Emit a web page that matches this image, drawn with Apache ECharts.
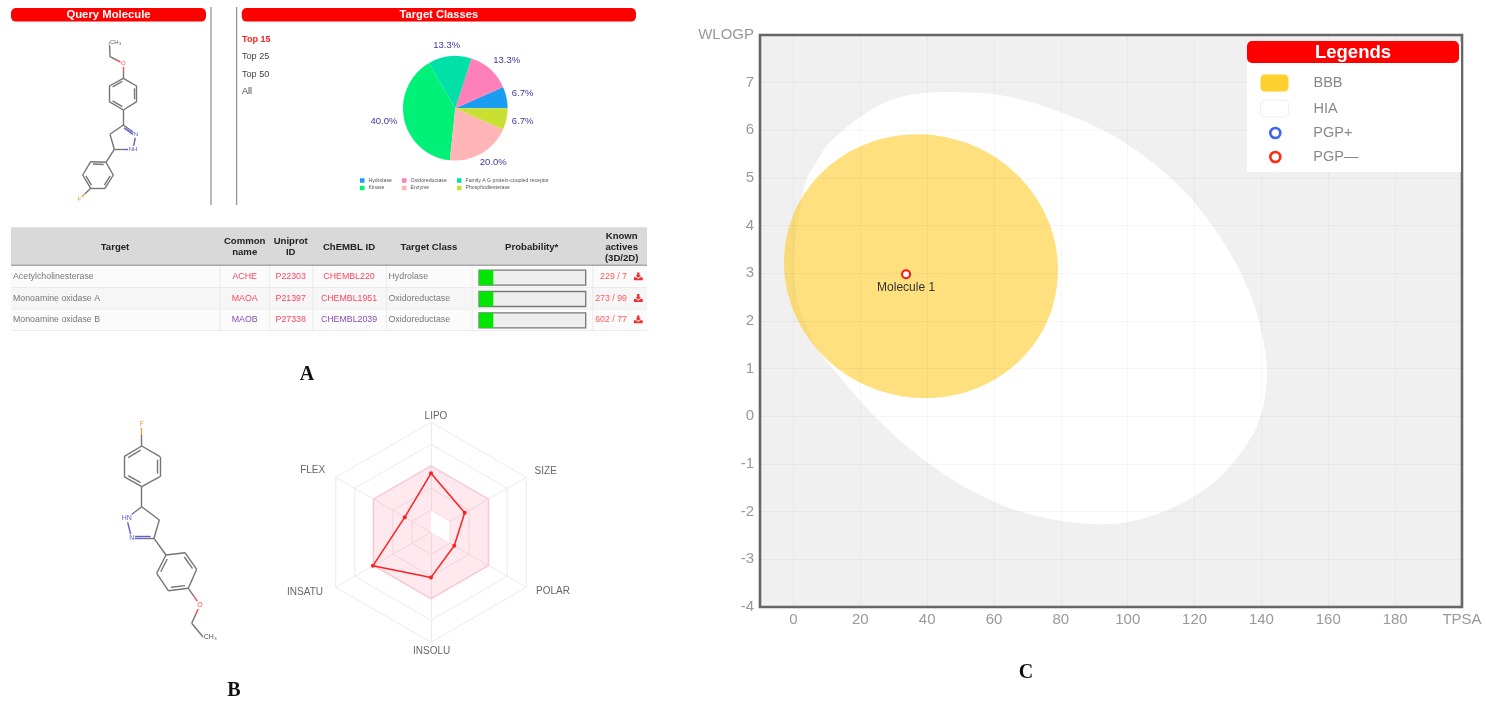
<!DOCTYPE html>
<html>
<head>
<meta charset="utf-8">
<style>
html, body { margin: 0; padding: 0; background: #fff; }
#main { width: 1486px; height: 707px; }
</style>
<script src="https://cdn.jsdelivr.net/npm/echarts@6/dist/echarts.min.js"></script>
</head>
<body>
<div id="main"></div>
<script>
// ---- data ----
var pieNames = ['Hydrolase', 'Oxidoreductase', 'Family A G protein-coupled receptor', 'Kinase', 'Enzyme', 'Phosphodiesterase'];
var pieCounts = [1, 2, 2, 6, 3, 1];
var pieColors = ['#1a9cf0', '#ff80b8', '#00e0a8', '#00f078', '#ffb5b5', '#c8e032'];

var topLinks = ['Top 15', 'Top 25', 'Top 50', 'All'];

var tableHead = ['Target', 'Common\nname', 'Uniprot\nID', 'ChEMBL ID', 'Target Class', 'Probability*', 'Known\nactives\n(3D/2D)'];
var targets = ['Acetylcholinesterase', 'Monoamine oxidase A', 'Monoamine oxidase B'];
var commonNames = ['ACHE', 'MAOA', 'MAOB'];
var uniprotIds = ['P22303', 'P21397', 'P27338'];
var chemblIds = ['CHEMBL220', 'CHEMBL1951', 'CHEMBL2039'];
var targetClasses = ['Hydrolase', 'Oxidoreductase', 'Oxidoreductase'];
var probabilities = [0.134, 0.134, 0.134];
var knownActives = ['229 / 7', '273 / 99', '602 / 77'];

// radar runs counter-clockwise from the top
var radarAxes = ['LIPO', 'FLEX', 'INSATU', 'INSOLU', 'POLAR', 'SIZE'];
var radarOptimal = [0.606, 0.606, 0.606, 0.606, 0.606, 0.606];
var radarHole = [0.195, 0, 0, 0, 0.195, 0.195];
var radarMolecule = [0.536, 0.275, 0.61, 0.41, 0.244, 0.354];

var tpsaTicks = [0, 20, 40, 60, 80, 100, 120, 140, 160, 180, 200];
var wlogpTicks = [-4, -3, -2, -1, 0, 1, 2, 3, 4, 5, 6, 7, 8];
// egg white outline as [TPSA, WLOGP]
var hiaOutline = [[50.0,6.80],[61.7,6.74],[75.1,6.50],[92.4,6.01],[105.8,5.41],[117.1,4.71],[126.2,3.91],[133.4,3.07],[138.6,2.16],[141.6,1.04],[140.0,0.06],[134.4,-0.71],[125.3,-1.41],[113.0,-1.93],[100.6,-2.21],[90.5,-2.26],[78.2,-2.17],[63.8,-1.90],[49.5,-1.41],[37.2,-0.81],[24.8,-0.04],[14.7,0.76],[6.9,1.46],[1.3,2.44],[0.1,3.28],[1.5,4.1],[3.5,4.89],[7.0,5.35],[11.0,5.76],[19.9,6.28],[28.9,6.63],[38.8,6.78]];
// yolk: cx, cy, rx (TPSA units), ry (WLOGP units), tilt in degrees
var bbbEllipse = [38.2, 3.15, 41.2, 2.755, 19];
var moleculePoints = [[33.7, 2.98]];

// molecule drawings: same atom order for both, bonds shared
var bonds = [[0,1],[1,2],[2,3],[3,4],[4,5],[5,6],[6,7],[7,8],[8,3],[6,9],[9,10],[10,11],[11,12],[12,13],[13,9],[12,14],[14,15],[15,16],[16,17],[17,18],[18,19],[19,14],[17,20]];
var doubleBonds = [[4,5,0],[6,7,0],[3,8,0],[15,16,1],[17,18,1],[14,19,1],[9,10,2]];
var rings = [[3,4,5,6,7,8],[14,15,16,17,18,19],[9,10,11,12,13]];
var atomsA = [[109.5,42],[110,56.7],[123.3,63.3],[123.3,78.3],[136.7,86],[136.7,101.7],[123.3,110],[109.3,101.7],[109.3,86],[123.3,125],[136,134.3],[133,149.3],[114.3,149.3],[110,134.3],[106,162.3],[113.3,175],[105,188.3],[90.7,188.3],[82.7,175],[90.7,161.7],[79.3,199]];
var atomsB = [[203.3,637.3],[191.7,623.3],[200,605],[188.3,588.3],[196.7,569.3],[185,552.7],[166,555],[156.7,573.3],[168.3,590.7],[154,538.3],[131.7,538.3],[126.7,518.3],[141.7,506.7],[159.3,520],[141.7,486.7],[160,476.7],[160,456.7],[141.7,446],[124,456.7],[124,476.7],[141.7,424]];

// ---- layout ----
var pieLabelCenters = [[522.7, 93], [506.7, 60.7], [446.7, 45.7], [384, 121.7], [493.3, 162.7], [522.7, 121.7]];
var radarLabelCenters = [[436, 416], [312.7, 470], [305, 592.3], [431.7, 651.7], [553, 591.7], [545.7, 471.7]];

// ---- helpers ----
var FONT = '"Liberation Sans", Arial, sans-serif';
var RED = '#ff0000';
var elements = [];

function txt(text, x, y, size, color, opts) {
    opts = opts || {};
    elements.push({
        type: 'text', silent: true, z: opts.z || 5, x: x, y: y,
        style: {
            text: text, fill: color, lineHeight: opts.lineHeight,
            font: (opts.weight || 'normal') + ' ' + size + 'px ' + (opts.family || FONT),
            align: opts.align || 'center', verticalAlign: 'middle'
        }
    });
}
function box(x, y, w, h, color, opts) {
    opts = opts || {};
    elements.push({
        type: 'rect', silent: true, z: opts.z || 3,
        shape: {x: x, y: y, width: w, height: h, r: opts.r || 0},
        style: {fill: color, stroke: opts.stroke, lineWidth: opts.lineWidth}
    });
}
function heading(label, x, y, w, h, size, z) {
    box(x, y, w, h, RED, {r: 5, z: z});
    txt(label, x + w / 2, y + h / 2 + 0.5, size, '#fff', {weight: 'bold', z: (z || 3) + 1});
}

function moleculeSeries(atoms, labels, fontSize) {
    var nodes = atoms.map(function (p, i) {
        var lab = labels[i];
        return {
            name: 'a' + i, x: p[0], y: p[1], symbolSize: 0,
            label: lab ? {
                show: true, formatter: lab.text, position: lab.pos || 'inside', distance: 0,
                fontSize: fontSize, color: lab.color, backgroundColor: '#fff', padding: 0.5
            } : {show: false}
        };
    });
    var links = [];
    function link(a, b, color) {
        links.push({source: a, target: b, lineStyle: {color: color || '#757575'}});
    }
    bonds.forEach(function (b, k) {
        var la = labels[b[0]], lb = labels[b[1]];
        var ca = la && la.hetero ? la.color : null, cb = lb && lb.hetero ? lb.color : null;
        if (ca && cb) { link('a' + b[0], 'a' + b[1], ca); return; }
        if (!ca && !cb) { link('a' + b[0], 'a' + b[1]); return; }
        // half coloured bond next to a hetero atom
        var mid = 'm' + k;
        nodes.push({
            name: mid, symbolSize: 0, label: {show: false},
            x: (atoms[b[0]][0] + atoms[b[1]][0]) / 2, y: (atoms[b[0]][1] + atoms[b[1]][1]) / 2
        });
        link('a' + b[0], mid, ca);
        link(mid, 'a' + b[1], cb);
    });
    doubleBonds.forEach(function (d, k) {
        var ring = rings[d[2]], cx = 0, cy = 0;
        ring.forEach(function (i) { cx += atoms[i][0] / ring.length; cy += atoms[i][1] / ring.length; });
        var pa = atoms[d[0]], pb = atoms[d[1]];
        function inner(p, q) {
            var x = p[0] + (q[0] - p[0]) * 0.08, y = p[1] + (q[1] - p[1]) * 0.08;
            return [x + (cx - x) * 0.17, y + (cy - y) * 0.17];
        }
        var i1 = inner(pa, pb), i2 = inner(pb, pa);
        nodes.push({name: 'd' + k + 'a', x: i1[0], y: i1[1], symbolSize: 0, label: {show: false}});
        nodes.push({name: 'd' + k + 'b', x: i2[0], y: i2[1], symbolSize: 0, label: {show: false}});
        var lb = labels[d[1]];
        link('d' + k + 'a', 'd' + k + 'b', lb && lb.hetero ? lb.color : null);
    });
    var xs = atoms.map(function (p) { return p[0]; }), ys = atoms.map(function (p) { return p[1]; });
    var minX = Math.min.apply(null, xs), maxX = Math.max.apply(null, xs);
    var minY = Math.min.apply(null, ys), maxY = Math.max.apply(null, ys);
    return {
        type: 'graph', layout: 'none', silent: true, z: 3,
        left: minX, top: minY, width: maxX - minX, height: maxY - minY,
        edgeSymbol: ['none', 'none'],
        lineStyle: {width: 1.4, opacity: 1, curveness: 0},
        data: nodes, links: links
    };
}
function atomLabels(nh) {
    var o = {};
    o[0] = {text: 'CH₃', color: '#555', pos: 'right'};
    o[2] = {text: 'O', color: '#ff4b4b', hetero: true};
    o[10] = {text: 'N', color: '#6060c8', hetero: true};
    o[11] = {text: nh, color: '#6060c8', hetero: true};
    o[20] = {text: 'F', color: '#e3a24a', hetero: true};
    return o;
}

// ---- panel A furniture ----
heading('Query Molecule', 11, 8, 195, 13.6, 11.3);
heading('Target Classes', 241.7, 8, 394.3, 13.6, 11.2);
[211, 236.7].forEach(function (x) {
    box(x - 0.5, 7, 1, 198, '#777');
});
topLinks.forEach(function (t, i) {
    txt(t, 242, 39 + i * 17.6, 9.1, i === 0 ? '#ff2020' : '#444', {align: 'left', weight: i === 0 ? 'bold' : 'normal'});
});

// table
var colEdges = [219.3, 269, 312.3, 386, 471.7, 592.3];
var headCenters = [115, 244.7, 290.7, 349, 429, 531.7, 621.7];
var rowTops = [266, 287.6, 309];
var rowH = 21.4;
var linkRed = '#ff4560', linkPurple = '#8c4fb4';
var rowColors = [linkRed, linkRed, linkPurple];

box(11, 227.3, 636, 37.7, '#d9d9d9');
box(11, 264.6, 636, 1.5, '#a8a8a8', {z: 4});
tableHead.forEach(function (h, i) {
    txt(h, headCenters[i], 247, 9.6, '#222', {weight: 'bold', lineHeight: 11});
});
rowTops.forEach(function (top, r) {
    var mid = top + rowH / 2;
    box(11, top, 636, rowH, r % 2 ? '#f6f6f6' : '#fbfbfb');
    box(11, top + rowH - 0.5, 636, 1, '#ececec', {z: 4});
    txt(targets[r], 13, mid, 8.8, '#777', {align: 'left'});
    txt(commonNames[r], 244.7, mid, 8.8, rowColors[r]);
    txt(uniprotIds[r], 290.7, mid, 8.8, linkRed);
    txt(chemblIds[r], 349, mid, 8.8, rowColors[r]);
    txt(targetClasses[r], 388.5, mid, 8.8, '#777', {align: 'left'});
    txt(knownActives[r], 627, mid, 8.8, '#ff5a5a', {align: 'right'});
    // download icon
    var ix = 638.3, iy = mid;
    elements.push({type: 'polygon', silent: true, z: 5, style: {fill: '#f03030'},
        shape: {points: [[ix - 1.2, iy - 4.2], [ix + 1.2, iy - 4.2], [ix + 1.2, iy - 1.4], [ix + 2.8, iy - 1.4], [ix, iy + 1.4], [ix - 2.8, iy - 1.4], [ix - 1.2, iy - 1.4]]}});
    elements.push({type: 'polygon', silent: true, z: 5, style: {fill: '#f03030'},
        shape: {points: [[ix - 4.4, iy + 0.6], [ix - 2.2, iy + 0.6], [ix, iy + 2.4], [ix + 2.2, iy + 0.6], [ix + 4.4, iy + 0.6], [ix + 4.4, iy + 3.6], [ix - 4.4, iy + 3.6]]}});
});
colEdges.forEach(function (x) {
    box(x, 266, 1, 64, '#ececec', {z: 4});
});

radarAxes.forEach(function (n, i) {
    txt(n, radarLabelCenters[i][0], radarLabelCenters[i][1], 10, '#666');
});

// section letters
txt('A', 307, 375, 20, '#111', {weight: 'bold', family: '"Liberation Serif", serif'});
txt('B', 234, 691, 20, '#111', {weight: 'bold', family: '"Liberation Serif", serif'});
txt('C', 1026, 673, 20, '#111', {weight: 'bold', family: '"Liberation Serif", serif'});

// legend card of panel C
box(1247, 42, 214, 130, '#fff', {z: 8});
heading('Legends', 1247, 41, 212, 22, 18.5, 9);

// ---- chart ----
// closed Catmull-Rom through the traced pixels, drawn as a fine polygon
function roundOutline(pts) {
    var out = [], n = pts.length;
    for (var i = 0; i < n; i++) {
        var p0 = pts[(i - 1 + n) % n], p1 = pts[i], p2 = pts[(i + 1) % n], p3 = pts[(i + 2) % n];
        for (var s = 0; s < 10; s++) {
            var t = s / 10, t2 = t * t, t3 = t2 * t;
            out.push([0, 1].map(function (k) {
                return 0.5 * (2 * p1[k] + (p2[k] - p0[k]) * t
                    + (2 * p0[k] - 5 * p1[k] + 4 * p2[k] - p3[k]) * t2
                    + (3 * p1[k] - p0[k] - 3 * p2[k] + p3[k]) * t3);
            }));
        }
    }
    return out;
}
function outlineRender(outline) {
    return function (params, api) {
        if (params.dataIndex !== 0) { return null; }
        return {
            type: 'polygon',
            shape: {points: roundOutline(outline.map(function (p) { return api.coord(p); }))},
            style: {fill: api.visual('color')}
        };
    };
}
function ellipseRender(params, api) {
    var c = api.coord([api.value(0), api.value(1)]);
    var s = api.size([api.value(2), api.value(3)]);
    return {
        type: 'ellipse', x: c[0], y: c[1], rotation: -api.value(4) * Math.PI / 180,
        shape: {cx: 0, cy: 0, rx: s[0], ry: s[1]},
        style: {fill: api.visual('color')}
    };
}
var gridLineData = tpsaTicks.slice(0, -1).map(function (v) { return {xAxis: v}; })
    .concat(wlogpTicks.slice(1, -1).map(function (v) { return {yAxis: v}; }));

function pieLegend(left, names) {
    return {
        left: left, top: 178, orient: 'vertical', data: names, selectedMode: false,
        itemWidth: 4.5, itemHeight: 4.5, itemGap: 2.5, padding: 0, icon: 'rect',
        textStyle: {fontSize: 5.2, color: '#555', fontFamily: FONT, padding: [0, 0, 0, -1]}
    };
}

var chart = echarts.init(document.getElementById('main'));
chart.setOption({
    animation: false,
    backgroundColor: '#fff',
    textStyle: {fontFamily: FONT},
    legend: [
        pieLegend(360, [pieNames[0], pieNames[3]]),
        pieLegend(402, [pieNames[1], pieNames[4]]),
        pieLegend(457, [pieNames[2], pieNames[5]]),
        {
            left: 1260, top: 74.5, orient: 'vertical', selectedMode: false, padding: 0, z: 11,
            itemWidth: 28, itemHeight: 17, itemGap: 8,
            textStyle: {fontSize: 14.5, color: '#888', padding: [0, 0, 0, 20]},
            data: [
                {name: 'BBB', icon: 'roundRect', itemStyle: {color: '#ffd02e'}},
                {name: 'HIA', icon: 'roundRect', itemStyle: {color: '#fff', borderColor: '#eee', borderWidth: 1}}
            ]
        },
        {
            left: 1269, top: 125.5, orient: 'vertical', selectedMode: false, padding: 0, z: 11,
            itemWidth: 10, itemHeight: 10, itemGap: 9,
            textStyle: {fontSize: 14.5, color: '#888', padding: [0, 0, 0, 28]},
            data: [
                {name: 'PGP+', icon: 'circle', itemStyle: {color: '#fff', borderColor: '#0d3cf0', borderWidth: 2.6}},
                {name: 'PGP—', icon: 'circle', itemStyle: {color: '#fff', borderColor: '#ff2a10', borderWidth: 2.6}}
            ]
        }
    ],
    grid: [
        {
            left: 760, top: 35, width: 702, height: 572, show: true,
            backgroundColor: '#f0f0f0', borderColor: '#666', borderWidth: 2.6
        },
        {left: 479, top: 267, width: 106.7, height: 64}
    ],
    xAxis: [
        {
            type: 'value', gridIndex: 0, min: -10, max: 200, interval: 10,
            axisLine: {show: false}, axisTick: {show: false}, splitLine: {show: false},
            axisLabel: {
                customValues: tpsaTicks, color: '#999', fontSize: 15, margin: 5,
                showMinLabel: true, showMaxLabel: true,
                formatter: function (v) { return v === 200 ? 'TPSA' : String(v); }
            }
        },
        {type: 'value', gridIndex: 1, min: 0, max: 1, show: false}
    ],
    yAxis: [
        {
            type: 'value', gridIndex: 0, min: -4, max: 8, interval: 1,
            axisLine: {show: false}, axisTick: {show: false}, splitLine: {show: false},
            axisLabel: {
                color: '#999', fontSize: 15, margin: 6, showMinLabel: true, showMaxLabel: true,
                formatter: function (v) { return v === 8 ? 'WLOGP' : String(v); }
            }
        },
        {type: 'category', gridIndex: 1, inverse: true, data: targets, show: false}
    ],
    radar: {
        center: [431, 532.3], radius: 110, startAngle: 90, splitNumber: 5, shape: 'polygon',
        indicator: radarAxes.map(function (n) { return {name: n, min: 0, max: 1}; }),
        axisName: {show: false},
        axisLine: {lineStyle: {color: '#ebebeb', width: 1}},
        axisTick: {show: false},
        splitLine: {lineStyle: {color: '#ebebeb', width: 1}},
        splitArea: {show: false}
    },
    series: [
        {
            type: 'pie', center: [455.3, 108.3], radius: 52.3, startAngle: 0, clockwise: false,
            silent: true,
            data: pieNames.map(function (n, i) {
                return {name: n, value: pieCounts[i], itemStyle: {color: pieColors[i]}};
            }),
            label: {
                position: 'outside', color: '#3a3aa0', fontSize: 9.5,
                formatter: function (p) { return p.percent.toFixed(1) + '%'; }
            },
            percentPrecision: 1,
            labelLine: {show: false},
            labelLayout: function (p) {
                return {
                    x: pieLabelCenters[p.dataIndex][0], y: pieLabelCenters[p.dataIndex][1],
                    align: 'center', verticalAlign: 'middle'
                };
            }
        },
        {
            type: 'radar', silent: true, symbol: 'none',
            lineStyle: {color: '#ffc8d4', width: 1},
            areaStyle: {color: 'rgba(255,70,120,0.12)', opacity: 1},
            data: [{value: radarOptimal, name: 'optimal'}]
        },
        {
            type: 'radar', silent: true, symbol: 'none',
            lineStyle: {color: '#fbe4e9', width: 1},
            areaStyle: {color: '#fff', opacity: 1},
            data: [{value: radarHole, name: 'hole'}]
        },
        {
            type: 'radar', silent: true, symbol: 'circle', symbolSize: 4,
            lineStyle: {color: '#ff2020', width: 1.5},
            itemStyle: {color: '#ff2020'},
            data: [{value: radarMolecule, name: 'Molecule 1'}]
        },
        {
            name: 'HIA', type: 'custom', xAxisIndex: 0, yAxisIndex: 0, silent: true, z: 2,
            itemStyle: {color: '#fff'}, renderItem: outlineRender(hiaOutline), data: hiaOutline
        },
        {
            name: 'BBB', type: 'custom', xAxisIndex: 0, yAxisIndex: 0, silent: true, z: 3,
            itemStyle: {color: 'rgba(255,204,41,0.6)'}, renderItem: ellipseRender, data: [bbbEllipse]
        },
        {
            name: 'PGP+', type: 'scatter', xAxisIndex: 0, yAxisIndex: 0, data: []
        },
        {
            name: 'PGP—', type: 'scatter', xAxisIndex: 0, yAxisIndex: 0, z: 5, silent: true,
            data: moleculePoints, symbolSize: 8,
            itemStyle: {color: '#fff', borderColor: '#ff1010', borderWidth: 2, opacity: 1},
            label: {show: true, position: 'bottom', distance: 2, formatter: 'Molecule 1', color: '#333', fontSize: 12},
            markLine: {
                silent: true, symbol: 'none', animation: false, z: 4,
                label: {show: false},
                lineStyle: {type: 'solid', width: 1, color: 'rgba(0,0,0,0.035)'},
                data: gridLineData
            }
        },
        {
            type: 'bar', xAxisIndex: 1, yAxisIndex: 1, barWidth: 15, silent: true, z: 6,
            data: probabilities, itemStyle: {color: '#00e600'},
            showBackground: true,
            backgroundStyle: {color: '#eee', borderColor: '#777', borderWidth: 1.3}
        },
        moleculeSeries(atomsA, atomLabels('NH'), 6),
        moleculeSeries(atomsB, atomLabels('HN'), 7)
    ],
    graphic: {elements: elements}
});
</script>
</body>
</html>
